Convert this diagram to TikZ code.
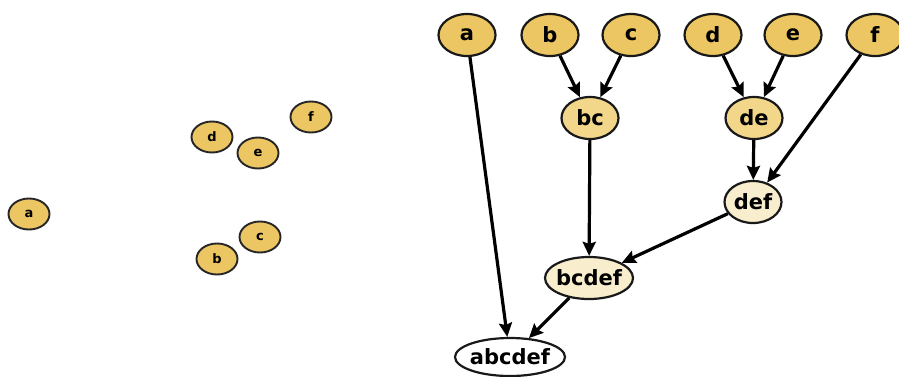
\documentclass[tikz,border=0pt]{standalone}
\usepackage{fontspec}
\setmainfont{DejaVu Sans}
\usepackage{tikz}
\usetikzlibrary{shapes,arrows.meta,positioning}
\definecolor{leafgold}{RGB}{236,198,98}
\definecolor{midgold}{RGB}{242,214,138}
\definecolor{palegold}{RGB}{248,238,206}
\tikzset{
	cluster/.style={shape=ellipse,draw=black!90,line width=2.2pt,inner sep=0pt,minimum width=57pt,minimum height=42pt,font=\bfseries\fontsize{21}{21}\selectfont},
	point/.style={shape=ellipse,draw=black!85,line width=1.9pt,fill=leafgold,inner sep=0pt,minimum width=41pt,minimum height=31pt,font=\bfseries\fontsize{13}{13}\selectfont},
	merge/.style={-{Stealth[length=14pt,width=13pt,inset=2pt]},line width=3.2pt}
}
\begin{document}
\begin{tikzpicture}[x=1pt,y=-1pt]
		\useasboundingbox (0,0) rectangle (899,376);
		% points in the plane
		\node(pa) [point] at (29,214) {a};
		\node(pb) [point] at (217,259) {b};
		\node(pc) [point] at (260,237) {c};
		\node(pd) [point] at (212,137) {d};
		\node(pe) [point] at (258,153) {e};
		\node(pf) [point] at (311,117) {f};
		% dendrogram
		\node(a) [cluster,fill=leafgold] at (467,35) {a};
		\node(b) [cluster,fill=leafgold] at (550,35) {b};
		\node(c) [cluster,fill=leafgold] at (631,35) {c};
		\node(d) [cluster,fill=leafgold] at (713,35) {d};
		\node(e) [cluster,fill=leafgold] at (793,35) {e};
		\node(f) [cluster,fill=leafgold] at (875,35) {f};
		\node(bc) [cluster,fill=midgold] at (590,118) {bc};
		\node(de) [cluster,fill=midgold] at (754,118) {de};
		\node(def) [cluster,fill=palegold] at (753,202) {def};
		\node(bcdef) [cluster,fill=palegold,minimum width=88pt,inner xsep=-6pt] at (589,278) {bcdef};
		\node(abcdef) [cluster,fill=white,minimum width=110pt,minimum height=38pt,inner xsep=-3pt] at (510,357) {abcdef};
		\draw[merge] (b) -- (bc);
		\draw[merge] (c) -- (bc);
		\draw[merge] (d) -- (de);
		\draw[merge] (e) -- (de);
		\draw[merge] (de) -- (def);
		\draw[merge] (f) -- (def);
		\draw[merge] (bc) -- (bcdef);
		\draw[merge] (def) -- (bcdef);
		\draw[merge] (a) -- (abcdef);
		\draw[merge] (bcdef) -- (abcdef);
	\end{tikzpicture}
\end{document}
